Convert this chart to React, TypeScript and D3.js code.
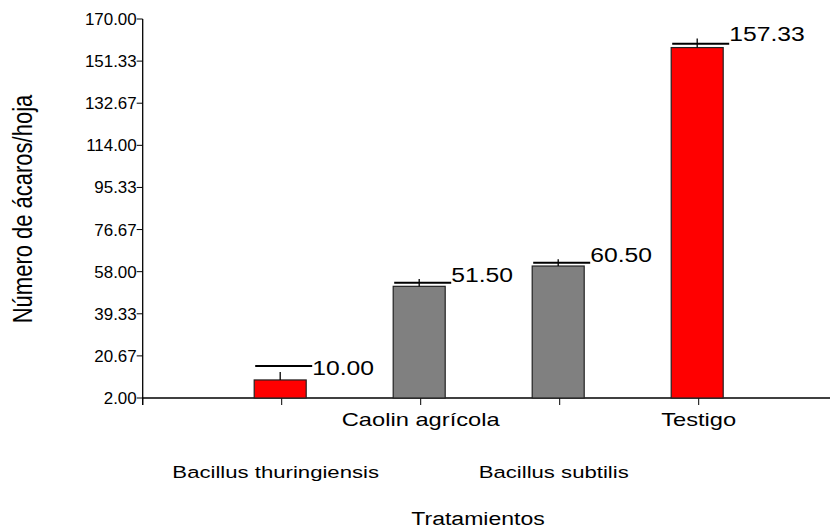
import React from "react";
import * as d3 from "d3";

const categories = ["Bacillus thuringiensis", "Caolin agrícola", "Bacillus subtilis", "Testigo"];
const means = [10.0, 51.5, 60.5, 157.33];
const errorTop = [13.5, 54.7, 63.5, 161.4];
const labelLine = [16.2, 53.1, 62.0, 159.0];
const barColors = ["#ff0000", "#808080", "#808080", "#ff0000"];
const yTicks = [2, 20.67, 39.33, 58, 76.67, 95.33, 114, 132.67, 151.33, 170];
const yTitle = "Número de ácaros/hoja";
const xTitle = "Tratamientos";

const W = 830;
const H = 527;
const SX = 1.28; // horizontal stretch of the text
const FONT = "Liberation Sans, Arial, sans-serif";

export default function App() {
  const x = d3.scaleLinear().domain([0, 5]).range([142.7, 837.7]);
  const y = d3.scaleLinear().domain([2, 170]).range([398, 19]);
  const barW = 52;
  const x0 = x(0);
  const y0 = y(2);

  const txt = (tx: number, ty: number, s: string, size: number, anchor: string = "start", key?: any, sx: number = SX) => (
    <g key={key} transform={`translate(${tx},${ty}) scale(${sx},1)`}>
      <text x={0} y={0} fontSize={size} textAnchor={anchor} fontFamily={FONT} fill="#000">
        {s}
      </text>
    </g>
  );

  return (
    <svg width={W} height={H} style={{ position: "absolute", left: 0, top: 0, background: "#fff" }}>
      <rect x={0} y={0} width={W} height={H} fill="#fff" />
      {/* y axis */}
      <line x1={x0} x2={x0} y1={y(170)} y2={y0 + 7} stroke="#000" strokeWidth={1.3} />
      {yTicks.map((t, i) => (
        <g key={"yt" + i}>
          <line x1={x0 - 6} x2={x0} y1={y(t)} y2={y(t)} stroke="#000" strokeWidth={1} />
          {txt(x0 - 6, y(t) + 6, t.toFixed(2), 16, "end", undefined, 1.06)}
        </g>
      ))}
      {/* x axis */}
      <line x1={x0} x2={W} y1={y0} y2={y0} stroke="#000" strokeWidth={1.3} />
      {d3.range(0, 5).map((i) => (
        <line key={"xt" + i} x1={x(i)} x2={x(i)} y1={y0} y2={y0 + 7} stroke="#000" strokeWidth={1} />
      ))}
      {/* bars */}
      {categories.map((c, i) => {
        const cx = x(i + 1) - 1.5;
        return (
          <g key={"b" + i}>
            <rect
              x={cx - barW / 2}
              y={y(means[i])}
              width={barW}
              height={y0 - y(means[i])}
              fill={barColors[i]}
              stroke="#222"
              strokeWidth={1.2}
            />
            <line x1={cx} x2={cx} y1={y(means[i])} y2={y(errorTop[i])} stroke="#000" strokeWidth={1.3} />
            <line
              x1={cx - barW / 2 + 1}
              x2={cx + barW / 2 + 6}
              y1={y(labelLine[i])}
              y2={y(labelLine[i])}
              stroke="#000"
              strokeWidth={2}
            />
            {txt(cx + barW / 2 + 6, y(errorTop[i]) + 3, means[i].toFixed(2), 19.3, "start")}
          </g>
        );
      })}
      {/* category labels */}
      {categories.map((c, i) =>
        i % 2 === 1
          ? txt(x(i + 1), 425.5, c, 18.5, "middle", "c" + i)
          : txt(x(i + 1) - 6, 478, c, 17.3, "middle", "c" + i)
      )}
      {txt(478, 525, xTitle, 18, "middle")}
      {/* y title */}
      <g transform={`translate(32,209) scale(${SX},1) rotate(-90)`}>
        <text x={0} y={0} fontSize={22} textAnchor="middle" fontFamily={FONT} fill="#000">
          {yTitle}
        </text>
      </g>
    </svg>
  );
}
